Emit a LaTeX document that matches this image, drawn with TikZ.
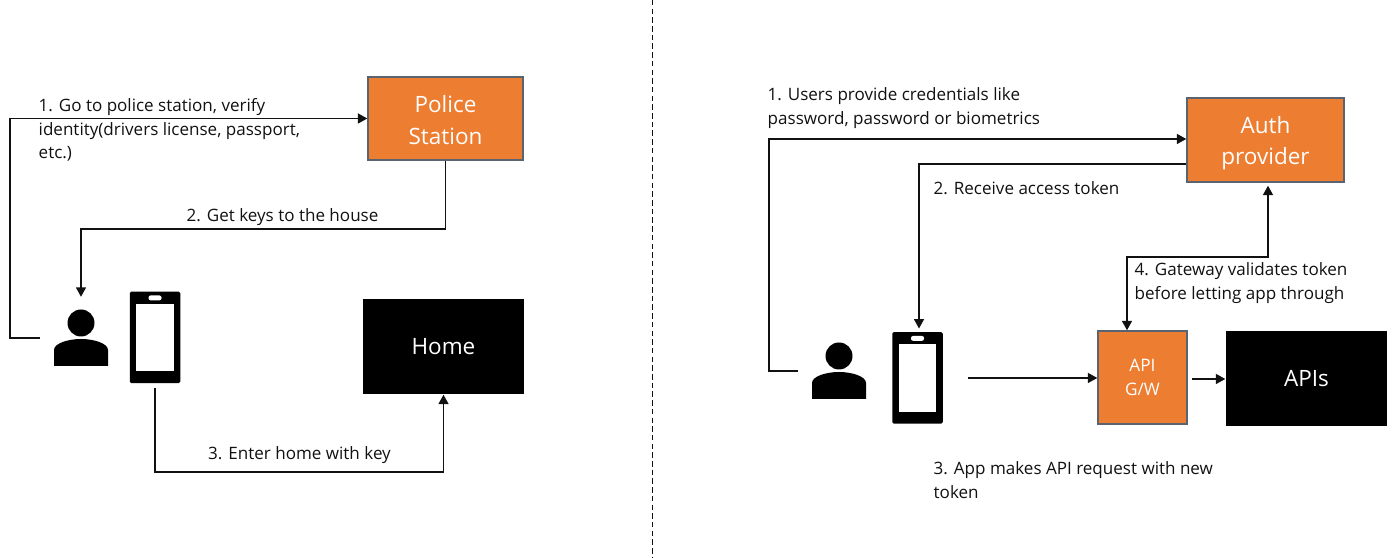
\documentclass[tikz,border=0pt]{standalone}
\usepackage{fontspec}
\setmainfont{Open Sans}
\usetikzlibrary{arrows.meta}
\definecolor{ink}{HTML}{111111}
\definecolor{orangebox}{HTML}{ED7D31}
\definecolor{edgegray}{HTML}{5A6470}
\newcommand{\liftline}[1]{\rule{0pt}{#1}}
\tikzset{
  flowtip/.tip={Triangle[length=.095cm,width=.1cm]},
  flow/.style={ink,line width=.017cm,-flowtip},
  note/.style={text=ink,font=\fontsize{4.85}{6.7}\selectfont,align=left,anchor=west,inner sep=0pt},
  authbox/.style={draw=edgegray,line width=.014cm,fill=orangebox,text=white,align=center,font=\fontsize{6.4}{9}\selectfont,inner sep=0pt},
  blackbox/.style={fill=black,text=white,font=\fontsize{6.4}{9}\selectfont,inner sep=0pt},
  userspot/.style={minimum width=.8cm,inner sep=0pt},
  phonebody/.style={fill=black,rounded corners=.015cm,minimum width=.505cm,minimum height=.915cm,inner sep=0pt},
  usericon/.pic={
    \fill[black] (0,.15) circle (.135);
    \fill[black] (-.27,-.28) -- (-.27,-.12)
      .. controls (-.27,-.05) and (-.12,-.01) .. (0,-.01)
      .. controls (.12,-.01) and (.27,-.05) .. (.27,-.12) -- (.27,-.28) -- cycle;
  },
  phonescreen/.pic={
    \fill[white] (-.188,-.337) rectangle (.188,.337);
    \fill[white,rounded corners=.02cm] (-.065,.372) rectangle (.065,.42);
  }
}
\begin{document}
\begin{tikzpicture}
  \useasboundingbox (0,0) rectangle (14,5.58);
  \draw[ink,line width=.015cm,dash pattern=on .055cm off .032cm] (6.527,5.58)--(6.527,0);
  % left side
  \node[authbox,minimum width=1.55cm,minimum height=.83cm] (police) at (4.455,4.395) {\liftline{5.8pt}Police\\Station};
  \node[blackbox,minimum width=1.61cm,minimum height=.95cm] (home) at (4.435,2.115) {Home};
  \node[userspot,minimum height=.81cm] (userL) at (.81,2.2) {};
  \pic at (userL) {usericon};
  \node[phonebody] (phoneL) at (1.55,2.205) {};
  \pic at (phoneL) {phonescreen};
  \draw[flow] (userL.west) -- ++(-.3,0) |- (police.west);
  \draw[flow] (police.south) |- (userL.north |- 0,3.29) -- (userL.north);
  \draw[flow,shorten <=.04cm] (phoneL.south) -- (phoneL.south |- 0,.86) -| (home.south);
  \node[note] (stepL1) at (.38,4.28) {1. Go to police station, verify\\identity(drivers license, passport,\\etc.)};
  \node[note] (stepL2) at (1.86,3.41) {2. Get keys to the house};
  \node[note] (stepL3) at (2.075,1.03) {3. Enter home with key};
  % right side
  \node[authbox,minimum width=1.57cm,minimum height=.84cm] (auth) at (12.655,4.18) {\liftline{6.6pt}Auth\\provider};
  \node[authbox,minimum width=.89cm,minimum height=.93cm,font=\fontsize{4.9}{6.8}\selectfont] (gateway) at (11.425,1.805) {API\\G/W};
  \node[blackbox,minimum width=1.61cm,minimum height=.95cm] (apis) at (13.065,1.795) {APIs};
  \node[userspot,minimum height=.6cm] (userR) at (8.39,1.87) {};
  \pic at (userR) {usericon};
  \node[phonebody] (phoneR) at (9.175,1.8) {};
  \pic at (phoneR) {phonescreen};
  \draw[flow] (userR.west) -- ++(-.29,0) |- (auth.west |- 0,4.19);
  \draw[flow,shorten >=.03cm] (auth.west |- 0,3.94) -| ([xshift=.015cm]phoneR.north);
  \draw[flow,shorten <=.25cm] (phoneR.east |- 0,1.8) -- (gateway.west |- 0,1.8);
  \draw[flow,shorten <=.04cm] (gateway.east |- 0,1.79) -- (apis.west |- 0,1.79);
  \draw[flow,flowtip-flowtip,shorten >=.03cm] ([xshift=-.155cm]gateway.north) |- (12.68,3.01) -- ([xshift=.025cm]auth.south);
  \node[note] (stepR1) at (7.67,4.50) {1. Users provide credentials like\\password, password or biometrics};
  \node[note] (stepR2) at (9.33,3.7) {2. Receive access token};
  \node[note] (stepR3) at (9.33,.78) {3. App makes API request with new\\token};
  \node[note] (stepR4) at (11.34,2.75) {4. Gateway validates token\\before letting app through};
\end{tikzpicture}
\end{document}
